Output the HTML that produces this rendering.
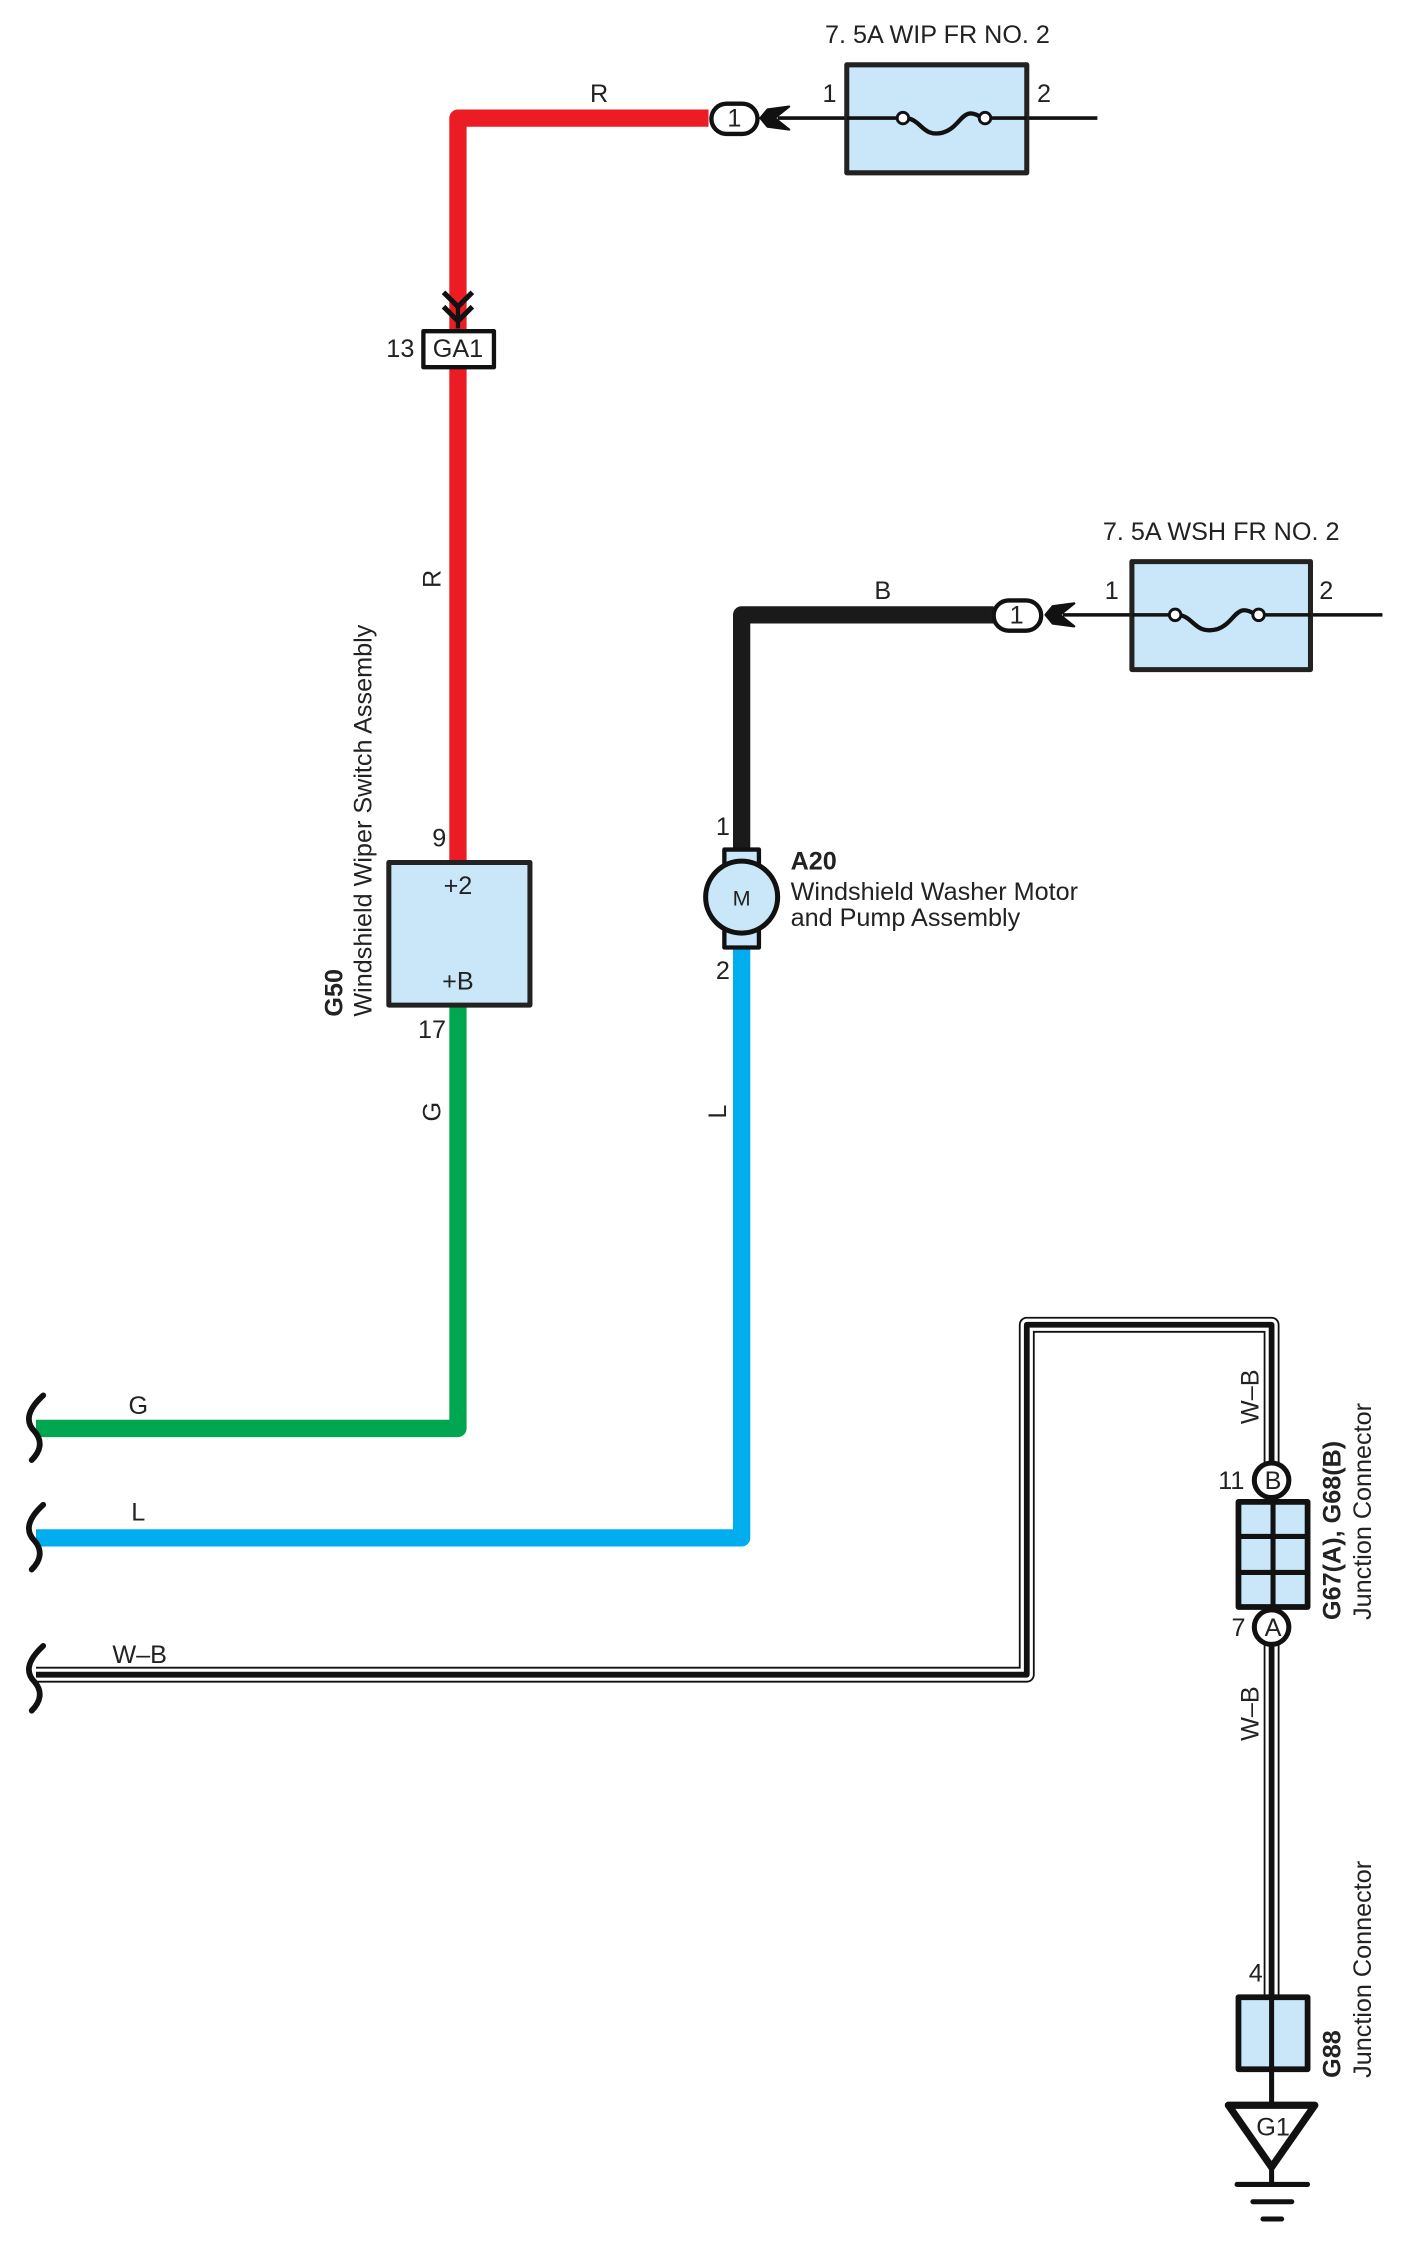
<!DOCTYPE html>
<html><head><meta charset="utf-8"><style>
html,body{margin:0;padding:0;background:#fff}
svg{display:block}
text{font-family:"Liberation Sans Narrow","Liberation Sans",sans-serif;font-size:17.5px;fill:#222}
.b{font-weight:bold}
</style></head><body>
<svg width="1412" height="2256" viewBox="0 0 980.5 1566.7" preserveAspectRatio="none" xmlns="http://www.w3.org/2000/svg">
<g fill="none" stroke-linejoin="round">
<line x1="540" y1="82" x2="762" y2="82" stroke="#111" stroke-width="2.5"/>
<rect x="588" y="45" width="125" height="75" fill="#c9e7f8" stroke="#222" stroke-width="3.5"/>
<line x1="588" y1="82" x2="713" y2="82" stroke="#111" stroke-width="2.5"/>
<rect x="626" y="78" width="60" height="9" fill="#c9e7f8" stroke="none"/>
<path d="M628 82 C640 82,640 96,655 92 C668 88,668 72,682 82" stroke="#111" stroke-width="3" fill="none"/>
<circle cx="627" cy="82" r="4" fill="#fff" stroke="#111" stroke-width="2"/>
<circle cx="684" cy="82" r="4" fill="#fff" stroke="#111" stroke-width="2"/>
<path d="M492 82 H318 V598" stroke="#ec1c24" stroke-width="12"/>
<path d="M308 203 L318 213 L328 203 M308 213 L318 223 L328 213" stroke="#111" stroke-width="3.5"/>
<path d="M318 213 L318 228" stroke="#111" stroke-width="3"/>
<rect x="294" y="230" width="49" height="25" fill="#fff" stroke="#111" stroke-width="3"/>
<rect x="494" y="72" width="32" height="21" rx="10.5" fill="#fff" stroke="#111" stroke-width="3"/>
<path d="M548 74 L538 82 L548 90 L533 88 L528 82 L533 76 Z" fill="#111" stroke="#111" stroke-width="1.5"/>
<path d="M318 698 V992 H25" stroke="#00a650" stroke-width="12"/>
<rect x="270" y="599" width="98" height="99" fill="#c9e7f8" stroke="#222" stroke-width="3.5"/>
<line x1="738" y1="427" x2="960" y2="427" stroke="#111" stroke-width="2.5"/>
<rect x="786" y="390" width="124" height="75" fill="#c9e7f8" stroke="#222" stroke-width="3.5"/>
<line x1="786" y1="427" x2="910" y2="427" stroke="#111" stroke-width="2.5"/>
<rect x="815" y="423" width="61" height="9" fill="#c9e7f8" stroke="none"/>
<path d="M817 427 C829 427,829 441,845 437 C858 433,858 417,872 427" stroke="#111" stroke-width="3"/>
<circle cx="816" cy="427" r="4" fill="#fff" stroke="#111" stroke-width="2"/>
<circle cx="874" cy="427" r="4" fill="#fff" stroke="#111" stroke-width="2"/>
<path d="M690 427 H515 V592" stroke="#1a1a1a" stroke-width="12"/>
<rect x="690" y="417" width="33" height="21" rx="10.5" fill="#fff" stroke="#111" stroke-width="3"/>
<path d="M746 419 L736 427 L746 435 L731 433 L726 427 L731 421 Z" fill="#111" stroke="#111" stroke-width="1.5"/>
<path d="M515 656 V1068 H25" stroke="#00aeef" stroke-width="12"/>
<rect x="503" y="590" width="24" height="68" fill="#c9e7f8" stroke="#111" stroke-width="3"/>
<circle cx="515" cy="623" r="25" fill="#c9e7f8" stroke="#111" stroke-width="3.5"/>
<path d="M25 1163 H713 V920 H883 V1016" stroke="#111" stroke-width="11"/>
<path d="M25 1163 H713 V920 H883 V1016" stroke="#fff" stroke-width="8.5"/>
<path d="M25 1163 H713 V920 H883 V1016" stroke="#111" stroke-width="4"/>
<path d="M883 1140 V1390" stroke="#111" stroke-width="11"/>
<path d="M883 1140 V1390" stroke="#fff" stroke-width="8.5"/>
<path d="M883 1140 V1437" stroke="#111" stroke-width="4"/>
<circle cx="883" cy="1028" r="12" fill="#fff" stroke="#111" stroke-width="3.5"/>
<rect x="860" y="1043" width="48" height="73" fill="#c9e7f8" stroke="#111" stroke-width="4"/>
<path d="M884 1043 V1116 M860 1067 H908 M860 1092 H908" stroke="#111" stroke-width="3.5"/>
<circle cx="883" cy="1130" r="12" fill="#fff" stroke="#111" stroke-width="3.5"/>
<rect x="860" y="1387" width="48" height="50" fill="#c9e7f8" stroke="#111" stroke-width="4"/>
<path d="M883 1387 V1462" stroke="#111" stroke-width="3.5"/>
<path d="M853 1462 H913 L883 1505 Z" fill="#fff" stroke="#111" stroke-width="5"/>
<path d="M883 1505 V1517 M859 1517 H908 M870 1529 H897 M877 1541 H890" stroke="#111" stroke-width="3.5" stroke-linecap="round"/>
<path d="M30 969 C18 980,18 988,24 994 C30 1001,28 1008,22 1014" stroke="#111" stroke-width="4" stroke-linecap="round"/>
<path d="M30 1045 C18 1056,18 1064,24 1070 C30 1077,28 1084,22 1090" stroke="#111" stroke-width="4" stroke-linecap="round"/>
<path d="M30 1143 C18 1154,18 1162,24 1168 C30 1175,28 1182,22 1188" stroke="#111" stroke-width="4" stroke-linecap="round"/>
</g>
<text x="651" y="30" text-anchor="middle">7. 5A WIP FR NO. 2</text>
<text x="576" y="71" text-anchor="middle">1</text>
<text x="725" y="71" text-anchor="middle">2</text>
<text x="510" y="88" text-anchor="middle">1</text>
<text x="416" y="71" text-anchor="middle">R</text>
<text x="278" y="248" text-anchor="middle">13</text>
<text x="318" y="248" text-anchor="middle">GA1</text>
<text transform="translate(306,402) rotate(-90)" text-anchor="middle">R</text>
<text x="305" y="588" text-anchor="middle">9</text>
<text x="318" y="621" text-anchor="middle">+2</text>
<text x="318" y="687" text-anchor="middle">+B</text>
<text x="300" y="721" text-anchor="middle">17</text>
<text transform="translate(306,772) rotate(-90)" text-anchor="middle">G</text>
<text transform="translate(238,706) rotate(-90)" class="b">G50</text>
<text transform="translate(258,706) rotate(-90)">Windshield Wiper Switch Assembly</text>
<text x="96" y="982" text-anchor="middle">G</text>
<text x="96" y="1056" text-anchor="middle">L</text>
<text x="97" y="1155" text-anchor="middle">W–B</text>
<text x="848" y="375" text-anchor="middle">7. 5A WSH FR NO. 2</text>
<text x="772" y="416" text-anchor="middle">1</text>
<text x="921" y="416" text-anchor="middle">2</text>
<text x="706" y="433" text-anchor="middle">1</text>
<text x="613" y="416" text-anchor="middle">B</text>
<text x="502" y="580" text-anchor="middle">1</text>
<text x="515" y="629" text-anchor="middle" style="font-size:15px">M</text>
<text x="502" y="680" text-anchor="middle">2</text>
<text x="549" y="604" class="b">A20</text>
<text x="549" y="625">Windshield Washer Motor</text>
<text x="549" y="643">and Pump Assembly</text>
<text transform="translate(504,772) rotate(-90)" text-anchor="middle">L</text>
<text transform="translate(874,970) rotate(-90)" text-anchor="middle">W–B</text>
<text x="855" y="1034" text-anchor="middle">11</text>
<text x="884" y="1034" text-anchor="middle">B</text>
<text x="860" y="1136" text-anchor="middle">7</text>
<text x="884" y="1136" text-anchor="middle">A</text>
<text transform="translate(931,1125) rotate(-90)" class="b">G67(A), G68(B)</text>
<text transform="translate(952,1125) rotate(-90)">Junction Connector</text>
<text transform="translate(874,1190) rotate(-90)" text-anchor="middle">W–B</text>
<text x="872" y="1376" text-anchor="middle">4</text>
<text transform="translate(931,1443) rotate(-90)" class="b">G88</text>
<text transform="translate(952,1443) rotate(-90)">Junction Connector</text>
<text x="884" y="1483" text-anchor="middle">G1</text>
</svg>
</body></html>
